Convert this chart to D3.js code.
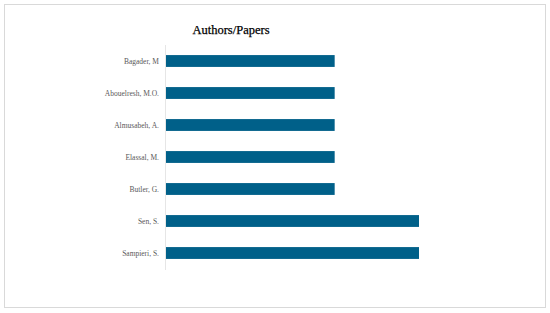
<!DOCTYPE html>
<html>
<head>
<meta charset="utf-8">
<script src="https://cdn.jsdelivr.net/npm/d3@7"></script>
<style>
    body { margin: 0; background: #fff; }
    svg { display: block; }
</style>
</head>
<body>
<svg width="550" height="313"></svg>
<script>
const authors = ['Bagader, M', 'Abouelresh, M.O.', 'Almusabeh, A.', 'Elassal, M.', 'Butler, G.', 'Sen, S.', 'Sampieri, S.'];
const papers = [2, 2, 2, 2, 2, 3, 3];

const svg = d3.select('svg');
const width = 550;
const height = 313;

// chart frame
svg.append('rect')
.attr('x', 4.5)
.attr('y', 4.5)
.attr('width', width - 9)
.attr('height', height - 10)
.attr('fill', '#fff')
.attr('stroke', '#d9d9d9');

svg.append('text')
.attr('x', 231)
.attr('y', 34)
.attr('text-anchor', 'middle')
.attr('font-family', 'Liberation Serif, serif')
.attr('font-size', 12.5)
.attr('fill', '#000')
.attr('stroke', '#000')
.attr('stroke-width', 0.25)
.text('Authors/Papers');

const x = d3.scaleLinear()
.domain([0, 3])
.range([166, 419]);

const y = d3.scaleBand()
.domain(authors)
.range([45, 269])
.paddingInner(0.63)
.paddingOuter(0.315);

// category axis line
svg.append('line')
.attr('x1', 165.5)
.attr('x2', 165.5)
.attr('y1', 45)
.attr('y2', 270)
.attr('stroke', '#e6e6e6');

svg.append('g')
.selectAll('rect')
.data(papers)
.enter().append('rect')
.attr('x', x(0))
.attr('y', (d, i) => y(authors[i]))
.attr('width', d => x(d) - x(0))
.attr('height', y.bandwidth())
.attr('fill', '#006089');

svg.append('g')
.selectAll('text')
.data(authors)
.enter().append('text')
.attr('x', 159)
.attr('y', d => y(d) + y.bandwidth() / 2)
.attr('dy', '0.35em')
.attr('text-anchor', 'end')
.attr('font-family', 'Liberation Serif, serif')
.attr('font-size', 7.5)
.attr('fill', '#595959')
.text(d => d);
</script>
</body>
</html>
